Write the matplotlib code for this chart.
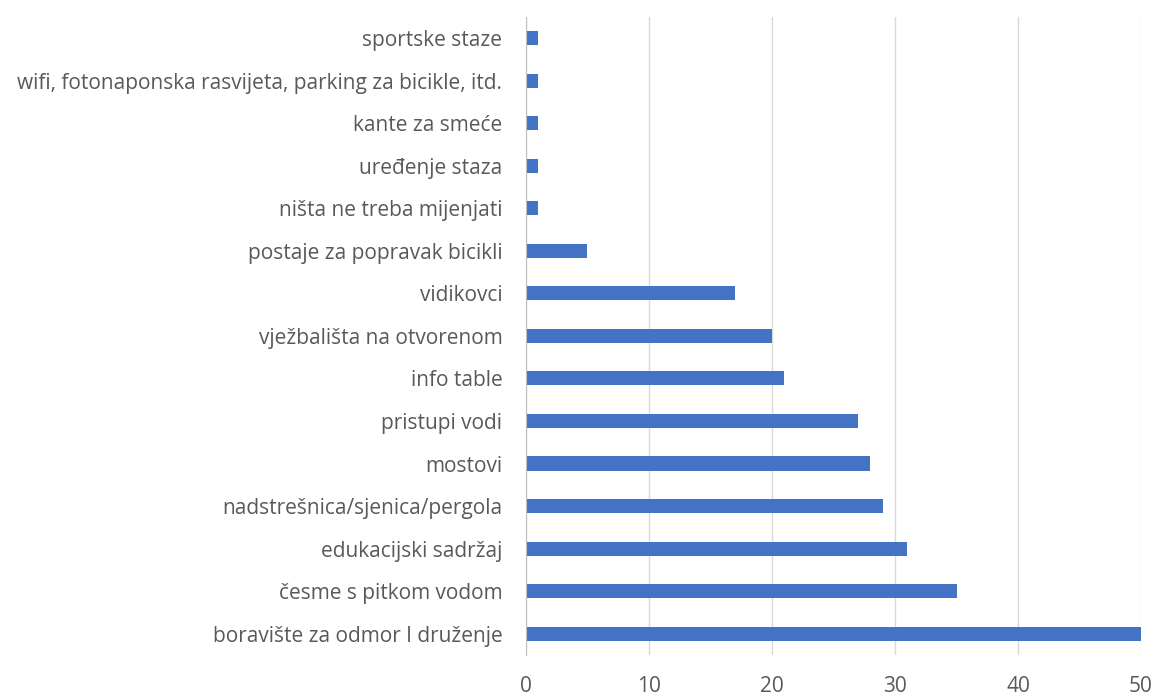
import matplotlib.pyplot as plt

categories = [
    "boravište za odmor I druženje",
    "česme s pitkom vodom",
    "edukacijski sadržaj",
    "nadstrešnica/sjenica/pergola",
    "mostovi",
    "pristupi vodi",
    "info table",
    "vježbališta na otvorenom",
    "vidikovci",
    "postaje za popravak bicikli",
    "ništa ne treba mijenjati",
    "uređenje staza",
    "kante za smeće",
    "wifi, fotonaponska rasvijeta, parking za bicikle, itd.",
    "sportske staze",
]
values = [50, 35, 31, 29, 28, 27, 21, 20, 17, 5, 1, 1, 1, 1, 1]
xticks = [0, 10, 20, 30, 40, 50]

plt.rcParams['font.family'] = ['Open Sans', 'DejaVu Sans']

fig = plt.figure(figsize=(11.57, 6.96), dpi=100)
ax = fig.add_axes([0.4546, 0.0589, 0.5316, 0.9171])

ax.barh(range(len(categories)), values, height=0.33, color="#4472C4", zorder=3)

ax.set_xlim(0, 50)
ax.set_ylim(-0.5, len(categories) - 0.5)
ax.set_xticks(xticks)
ax.set_yticks(range(len(categories)))
ax.set_yticklabels(categories)

ax.grid(axis="x", color="#D9D9D9", linewidth=1, zorder=0)
for side in ["top", "right", "bottom"]:
    ax.spines[side].set_visible(False)
ax.spines["left"].set_color("#BFBFBF")
ax.spines["left"].set_zorder(4)

ax.tick_params(axis="both", length=0, colors="#595959", labelsize=15)
ax.tick_params(axis="y", pad=17)
ax.tick_params(axis="x", pad=15)

fig.savefig("out.png", dpi=100)
